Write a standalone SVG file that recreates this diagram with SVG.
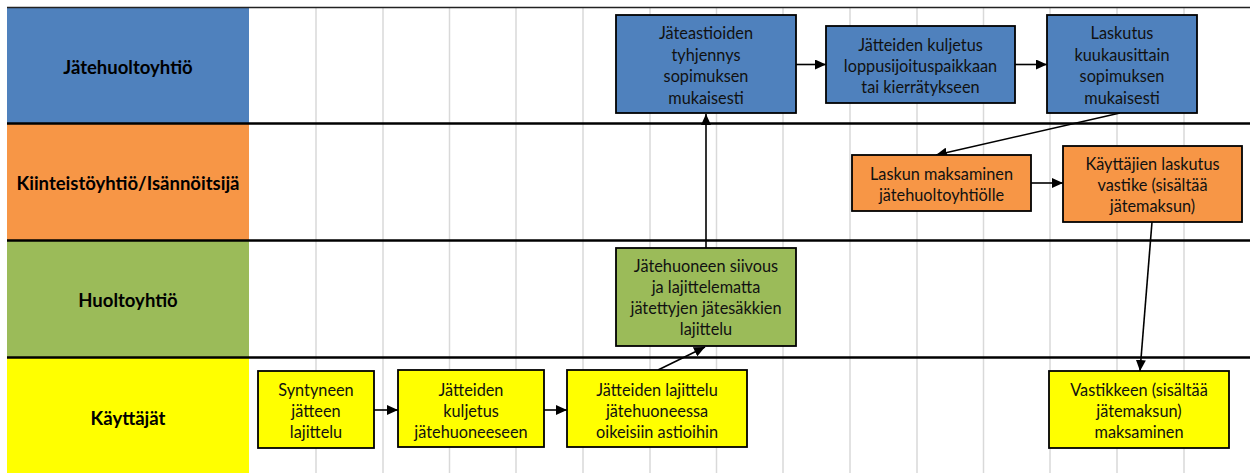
<svg xmlns="http://www.w3.org/2000/svg" width="1250" height="473" viewBox="0 0 1250 473">
<style>
.grid{stroke:#D9D9D9;stroke-width:1.5}
.lane{stroke:#000;stroke-width:2.5}
.hdr{font-family:Lato,"Liberation Sans",sans-serif;font-weight:bold;font-size:18.5px;fill:#000;text-anchor:middle}
.box{stroke:#000;stroke-width:1.8}
.t{font-family:Lato,"Liberation Sans",sans-serif;font-size:16.3px;fill:#111;text-anchor:middle}
.c{fill:none;stroke:#000;stroke-width:1.6;marker-end:url(#ah)}
</style>
<defs>
<marker id="ah" markerUnits="userSpaceOnUse" markerWidth="12" markerHeight="10" refX="11" refY="5" orient="auto">
<path d="M0,0 L11,5 L0,10 Z" fill="#000"/>
</marker>
</defs>
<rect x="0" y="0" width="1250" height="473" fill="#fff"/>
<g id="lanes">
<rect x="7" y="7" width="242" height="117" fill="#4F81BD"/>
<rect x="7" y="124" width="242" height="117" fill="#F79646"/>
<rect x="7" y="241" width="242" height="117" fill="#9BBB59"/>
<rect x="7" y="358" width="242" height="115" fill="#FFFF00"/>
<g class="grid">
<line x1="316" y1="7" x2="316" y2="473"/><line x1="383" y1="7" x2="383" y2="473"/>
<line x1="449.5" y1="7" x2="449.5" y2="473"/><line x1="516" y1="7" x2="516" y2="473"/>
<line x1="583" y1="7" x2="583" y2="473"/><line x1="650" y1="7" x2="650" y2="473"/>
<line x1="716.5" y1="7" x2="716.5" y2="473"/><line x1="783" y1="7" x2="783" y2="473"/>
<line x1="850" y1="7" x2="850" y2="473"/><line x1="917" y1="7" x2="917" y2="473"/>
<line x1="983.5" y1="7" x2="983.5" y2="473"/><line x1="1050" y1="7" x2="1050" y2="473"/>
<line x1="1117" y1="7" x2="1117" y2="473"/><line x1="1184" y1="7" x2="1184" y2="473"/>
</g>
<line x1="7" y1="7.5" x2="1250" y2="7.5" stroke="#222" stroke-width="1.3"/>
<line class="lane" x1="7" y1="123.5" x2="1250" y2="123.5"/>
<line class="lane" x1="7" y1="240.5" x2="1250" y2="240.5"/>
<line class="lane" x1="7" y1="357.5" x2="1250" y2="357.5"/>
<text class="hdr" x="128" y="73.5">Jätehuoltoyhtiö</text>
<text class="hdr" x="128" y="189.5">Kiinteistöyhtiö/Isännöitsijä</text>
<text class="hdr" x="128" y="306.5">Huoltoyhtiö</text>
<text class="hdr" x="128" y="424.5">Käyttäjät</text>
</g>
<g id="connectors">
<path class="c" d="M374,410 L398,410"/>
<path class="c" d="M544,410 L567,410"/>
<path class="c" d="M658,370 L705,347"/>
<path class="c" d="M706,248 L706,114"/>
<path class="c" d="M796,64.5 L826,64.5"/>
<path class="c" d="M1015,64.5 L1047,64.5"/>
<path class="c" d="M1120,113 L936,155"/>
<path class="c" d="M1031,183 L1063,183"/>
<path class="c" d="M1152,222 L1140,371"/>
</g>
<g id="n1"><rect class="box" x="616" y="15" width="180" height="98" fill="#4F81BD"/>
<text class="t" x="706" y="39">Jäteastioiden<tspan x="706" dy="21.5">tyhjennys</tspan><tspan x="706" dy="21.5">sopimuksen</tspan><tspan x="706" dy="21.5">mukaisesti</tspan></text></g>
<g id="n2"><rect class="box" x="826" y="26" width="189" height="77" fill="#4F81BD"/>
<text class="t" x="920.5" y="50.5">Jätteiden kuljetus<tspan x="920.5" dy="21">loppusijoituspaikkaan</tspan><tspan x="920.5" dy="21">tai kierrätykseen</tspan></text></g>
<g id="n3"><rect class="box" x="1047" y="15" width="150" height="98" fill="#4F81BD"/>
<text class="t" x="1122" y="39">Laskutus<tspan x="1122" dy="21.5">kuukausittain</tspan><tspan x="1122" dy="21.5">sopimuksen</tspan><tspan x="1122" dy="21.5">mukaisesti</tspan></text></g>
<g id="n4"><rect class="box" x="852" y="155" width="179" height="56" fill="#F79646"/>
<text class="t" x="941.5" y="179.5">Laskun maksaminen<tspan x="941.5" dy="21">jätehuoltoyhtiölle</tspan></text></g>
<g id="n5"><rect class="box" x="1063" y="146" width="179" height="76" fill="#F79646"/>
<text class="t" x="1152.5" y="169.5">Käyttäjien laskutus<tspan x="1152.5" dy="21">vastike (sisältää</tspan><tspan x="1152.5" dy="21">jätemaksun)</tspan></text></g>
<g id="n6"><rect class="box" x="616" y="248" width="180" height="98" fill="#9BBB59"/>
<text class="t" x="706" y="271.5">Jätehuoneen siivous<tspan x="706" dy="21.2">ja lajittelematta</tspan><tspan x="706" dy="21.2">jätettyjen jätesäkkien</tspan><tspan x="706" dy="21.2">lajittelu</tspan></text></g>
<g id="n7"><rect class="box" x="258" y="371" width="116" height="77" fill="#FFFF00"/>
<text class="t" x="316" y="395.5">Syntyneen<tspan x="316" dy="21">jätteen</tspan><tspan x="316" dy="21">lajittelu</tspan></text></g>
<g id="n8"><rect class="box" x="398" y="370" width="146" height="77" fill="#FFFF00"/>
<text class="t" x="471" y="395.5">Jätteiden<tspan x="471" dy="21">kuljetus</tspan><tspan x="471" dy="21">jätehuoneeseen</tspan></text></g>
<g id="n9"><rect class="box" x="567" y="370" width="180" height="77" fill="#FFFF00"/>
<text class="t" x="657" y="395.5">Jätteiden lajittelu<tspan x="657" dy="21">jätehuoneessa</tspan><tspan x="657" dy="21">oikeisiin astioihin</tspan></text></g>
<g id="n10"><rect class="box" x="1049" y="371" width="180" height="77" fill="#FFFF00"/>
<text class="t" x="1139" y="395.5">Vastikkeen (sisältää<tspan x="1139" dy="21">jätemaksun)</tspan><tspan x="1139" dy="21">maksaminen</tspan></text></g>
</svg>
